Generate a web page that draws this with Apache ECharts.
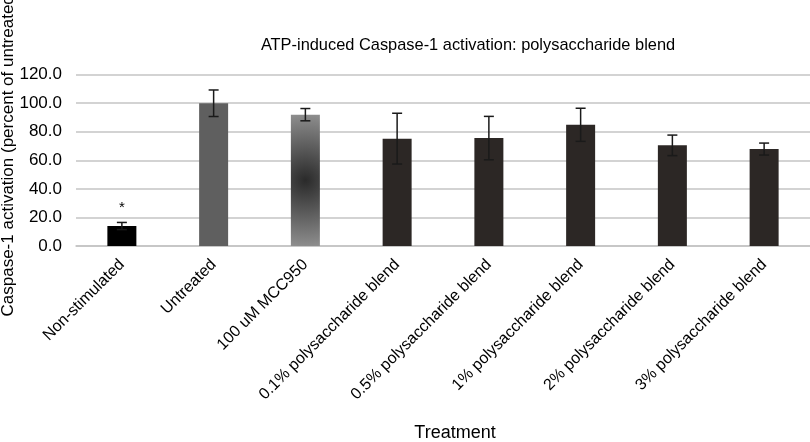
<!DOCTYPE html>
<html>
<head>
<meta charset="utf-8">
<script src="https://cdn.jsdelivr.net/npm/echarts@6/dist/echarts.min.js"></script>
<style>
html,body{margin:0;padding:0;background:#fff;}
#chart{width:810px;height:442px;}
</style>
</head>
<body>
<div id="chart"></div>
<script>
// ---- data ----
var categories = ['Non-stimulated', 'Untreated', '100 uM MCC950', '0.1% polysaccharide blend',
  '0.5% polysaccharide blend', '1% polysaccharide blend', '2% polysaccharide blend', '3% polysaccharide blend'];
var means = [14.0, 100.0, 92.0, 75.2, 75.6, 84.9, 70.5, 67.9];
var errors = [2.5, 9.3, 4.3, 17.8, 15.2, 11.6, 7.2, 4.2];
var annotations = ['*', '', '', '', '', '', '', ''];

// ---- styles ----
var FONT = '"Liberation Sans", Arial, sans-serif';
var barColors = [
  '#000000',
  '#5f5f5f',
  { type: 'radial', x: 0.5, y: 0.5, r: 2.3,
    colorStops: [{ offset: 0, color: '#2a2a2a' }, { offset: 1, color: '#8e8e8e' }] },
  '#2c2725', '#2c2725', '#2c2725', '#2c2725', '#2c2725'
];

var barData = means.map(function (v, i) {
  return { value: v, itemStyle: { color: barColors[i] } };
});
var errData = means.map(function (v, i) {
  return [i, v - errors[i], v + errors[i], v];
});

var chart = echarts.init(document.getElementById('chart'), null, { renderer: 'canvas' });
chart.setOption({
  animation: false,
  backgroundColor: '#fff',
  textStyle: { fontFamily: FONT },
  title: {
    text: 'ATP-induced Caspase-1 activation: polysaccharide blend',
    left: 463, top: 32, textAlign: 'center',
    textStyle: { fontFamily: FONT, fontSize: 16.4, fontWeight: 'normal', color: '#000' }
  },
  grid: { left: 76, right: 0, top: 74.7, bottom: 196, containLabel: false, outerBoundsMode: 'none' },
  xAxis: {
    type: 'category',
    data: categories,
    name: 'Treatment',
    nameLocation: 'middle',
    nameGap: 178,
    nameTextStyle: { fontFamily: FONT, fontSize: 18, color: '#000', padding: [0, 0, 0, 24] },
    axisLine: { lineStyle: { color: '#c4c4c4', width: 1.5 } },
    axisTick: { show: false },
    axisLabel: { rotate: 45, interval: 0, margin: 16, fontFamily: FONT, fontSize: 16, color: '#000' }
  },
  yAxis: {
    type: 'value',
    min: 0, max: 120, interval: 20,
    axisLine: { show: false },
    axisTick: { show: false },
    axisLabel: {
      margin: 14, fontFamily: FONT, fontSize: 17, color: '#000',
      formatter: function (v) { return v.toFixed(1); }
    },
    splitLine: { lineStyle: { color: '#c4c4c4', width: 1.5 } }
  },
  graphic: [{
    type: 'text',
    x: 8, y: 153,
    rotation: Math.PI / 2,
    style: {
      text: 'Caspase-1 activation (percent of untreated)',
      fontFamily: FONT, fontSize: 17, fill: '#000',
      textAlign: 'center', textVerticalAlign: 'middle'
    }
  }],
  series: [
    {
      type: 'bar',
      data: barData,
      barWidth: 29,
      z: 2
    },
    {
      type: 'custom',
      z: 3,
      data: errData,
      encode: { x: 0, y: [1, 2] },
      renderItem: function (params, api) {
        var idx = api.value(0);
        var lo = api.coord([idx, api.value(1)]);
        var hi = api.coord([idx, api.value(2)]);
        var hw = 5;
        var st = { stroke: '#1a1a1a', lineWidth: 1.5 };
        var children = [
          { type: 'line', shape: { x1: hi[0], y1: hi[1], x2: lo[0], y2: lo[1] }, style: st },
          { type: 'line', shape: { x1: hi[0] - hw, y1: hi[1], x2: hi[0] + hw, y2: hi[1] }, style: st },
          { type: 'line', shape: { x1: lo[0] - hw, y1: lo[1], x2: lo[0] + hw, y2: lo[1] }, style: st }
        ];
        var ann = annotations[params.dataIndex];
        if (ann) {
          children.push({
            type: 'text',
            style: {
              text: ann, x: hi[0], y: hi[1] - 15,
              fontFamily: FONT, fontSize: 15, fill: '#000',
              textAlign: 'center', textVerticalAlign: 'middle'
            }
          });
        }
        return { type: 'group', children: children };
      }
    }
  ]
});
</script>
</body>
</html>
